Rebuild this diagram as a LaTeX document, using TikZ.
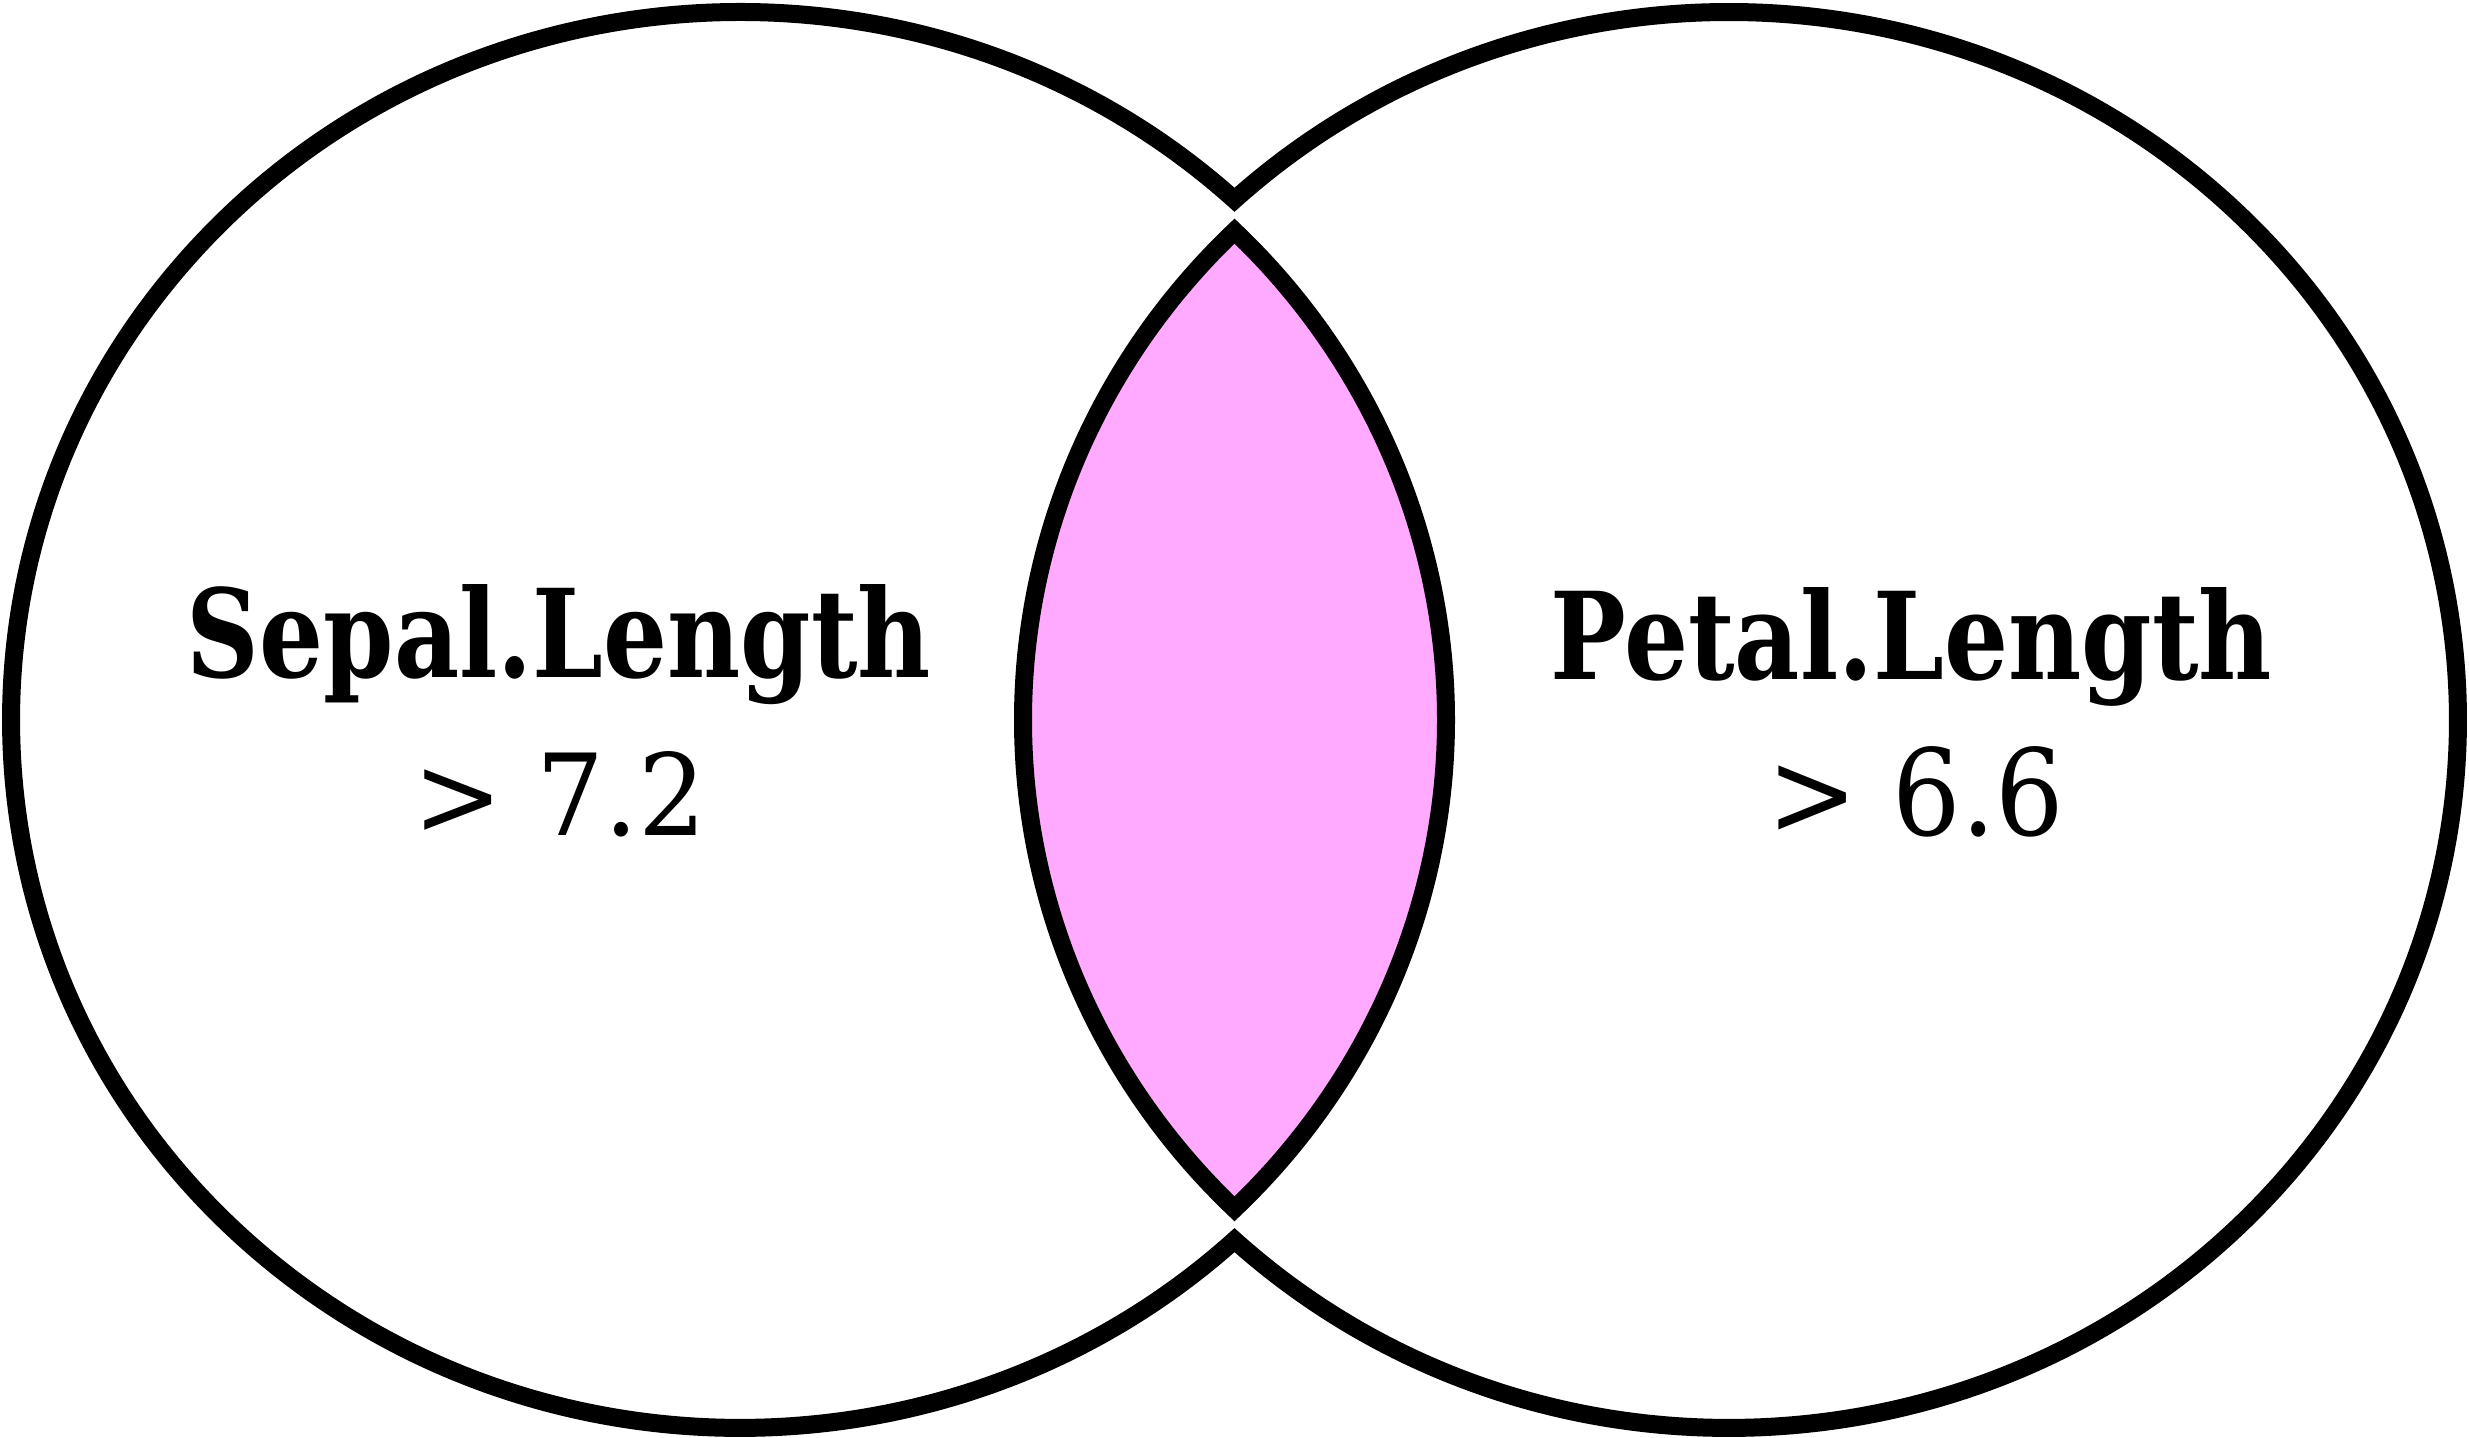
\documentclass[tikz,border=0pt]{standalone}
\usepackage{fontspec}
\setmainfont{DejaVu Serif}
\usepackage{graphicx}
\definecolor{lenspink}{RGB}{255,170,255}
\begin{document}
\begin{tikzpicture}[x=0.5pt,y=0.5pt,
  outline/.style={draw=black,line width=9pt},
  vlabel/.style={inner sep=0pt,anchor=base}]
\useasboundingbox (0,0) rectangle (2469,1438);
% union of the two sets
\path[outline,fill=white] (1234.5,1238.2)
  arc[start angle=47.287,end angle=312.713,x radius=364.5pt,y radius=354pt]
  arc[start angle=227.287,end angle=492.713,x radius=364.5pt,y radius=354pt]
  -- cycle;
% intersection lens
\path[outline,fill=lenspink] (1234.5,1206.9)
  arc[start angle=134.461,end angle=225.539,x radius=353pt,y radius=342.5pt]
  arc[start angle=-45.539,end angle=45.539,x radius=353pt,y radius=342.5pt]
  -- cycle;
% labels
\node[vlabel] (sepal) at (559,760) {\resizebox{372pt}{46.5pt}{\bfseries Sepal.Length}};
\node[vlabel] (sepalv) at (560,602) {\resizebox{146.5pt}{42pt}{> 7.2}};
\node[vlabel] (petal) at (1911.5,758) {\resizebox{360.5pt}{46pt}{\bfseries Petal.Length}};
\node[vlabel] (petalv) at (1916,602) {\resizebox{148pt}{44.5pt}{> 6.6}};
\end{tikzpicture}
\end{document}
